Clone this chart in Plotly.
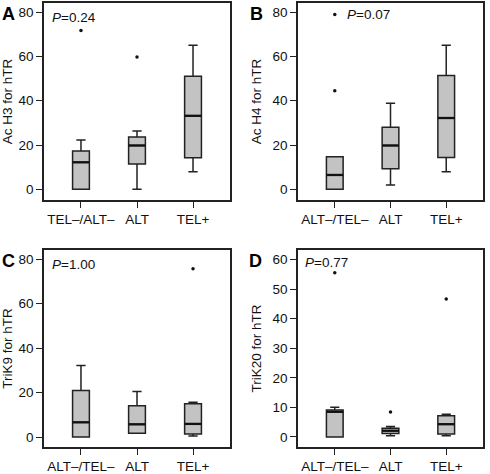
import plotly.graph_objects as go

# ---------------- data ----------------
cats_A = ["TEL\u2013/ALT\u2013", "ALT", "TEL+"]
cats_BCD = ["ALT\u2013/TEL\u2013", "ALT", "TEL+"]

# Panel A: Ac H3
A_q1 = [0.0, 11.4, 14.3]
A_med = [12.2, 19.8, 33.2]
A_q3 = [17.3, 23.6, 51.1]
A_lo = [0.0, 0.0, 8.0]
A_hi = [22.3, 26.3, 65.0]
A_out_cat = [0, 1]
A_out_val = [71.7, 59.7]

# Panel B: Ac H4
B_q1 = [0.0, 9.3, 14.4]
B_med = [6.5, 19.8, 32.2]
B_q3 = [14.7, 28.0, 51.4]
B_lo = [0.0, 2.0, 8.0]
B_hi = [14.7, 38.9, 65.0]
B_out_cat = [0, 0]
B_out_val = [44.5, 78.9]

# Panel C: TriK9
C_q1 = [0.0, 1.7, 1.4]
C_med = [6.6, 5.7, 5.9]
C_q3 = [20.9, 14.1, 15.0]
C_lo = [0.0, 1.7, 0.5]
C_hi = [32.2, 20.5, 15.6]
C_out_cat = [2]
C_out_val = [75.8]

# Panel D: TriK20
D_q1 = [0.0, 1.2, 1.0]
D_med = [8.5, 2.1, 4.3]
D_q3 = [9.1, 2.9, 7.2]
D_lo = [0.0, 0.4, 0.4]
D_hi = [10.0, 3.5, 7.7]
D_out_cat = [0, 1, 2]
D_out_val = [55.5, 8.4, 46.6]

y_titles = ["Ac H3 for hTR", "Ac H4 for hTR", "TriK9 for hTR", "TriK20 for hTR"]
p_texts = ["0.24", "0.07", "1.00", "0.77"]
letters = ["A", "B", "C", "D"]
ticks_80 = [0, 20, 40, 60, 80]
ticks_60 = [0, 10, 20, 30, 40, 50, 60]

# ---------------- figure ----------------
W, H = 490, 474
FONT = "Liberation Sans, Arial, Helvetica, sans-serif"
BOXW = 0.3
FILL = "#c3c3c3"
EDGE = "#222222"
FS = 13.5

panels = [
    (cats_A, A_q1, A_med, A_q3, A_lo, A_hi, A_out_cat, A_out_val),
    (cats_BCD, B_q1, B_med, B_q3, B_lo, B_hi, B_out_cat, B_out_val),
    (cats_BCD, C_q1, C_med, C_q3, C_lo, C_hi, C_out_cat, C_out_val),
    (cats_BCD, D_q1, D_med, D_q3, D_lo, D_hi, D_out_cat, D_out_val),
]

# pixel boxes of the plotting frames (left, right, top, bottom)
frames = [(44, 230, 3, 200), (298, 483, 3, 200), (44, 230, 250, 447), (298, 483, 250, 447)]
yranges = [[-4.8, 84.1], [-4.8, 84.1], [-4.5, 84.2], [-3.4, 63.2]]

fig = go.Figure()
layout = {}
for i, (cats, q1, med, q3, lo, hi, oc, ov) in enumerate(panels):
    n = i + 1
    xa = "x" if n == 1 else f"x{n}"
    ya = "y" if n == 1 else f"y{n}"
    xs = list(range(len(cats)))
    fig.add_trace(go.Box(
        x=xs, q1=q1, median=med, q3=q3, lowerfence=lo, upperfence=hi,
        width=BOXW, whiskerwidth=0.55, fillcolor=FILL,
        line=dict(color=EDGE, width=1.5), boxpoints=False,
        xaxis=xa, yaxis=ya, showlegend=False, hoverinfo="skip",
    ))
    # thicker median lines
    mx, my = [], []
    for xi, m in zip(xs, med):
        mx += [xi - BOXW / 2, xi + BOXW / 2, None]
        my += [m, m, None]
    fig.add_trace(go.Scatter(x=mx, y=my, mode="lines", line=dict(color="#111", width=2.3),
                             xaxis=xa, yaxis=ya, showlegend=False, hoverinfo="skip"))
    fig.add_trace(go.Scatter(x=oc, y=ov, mode="markers",
                             marker=dict(color="#111", size=3.5),
                             xaxis=xa, yaxis=ya, showlegend=False, hoverinfo="skip"))
    l, r, t, b = frames[i]
    xkey = "xaxis" if n == 1 else f"xaxis{n}"
    ykey = "yaxis" if n == 1 else f"yaxis{n}"
    layout[xkey] = dict(
        domain=[l / W, r / W], anchor=ya, range=[-0.66, 2.66], automargin=False,
        tickvals=xs, ticktext=cats, ticks="outside", ticklen=6, tickwidth=1.4, tickcolor=EDGE,
        showline=True, mirror=True, linecolor=EDGE, linewidth=1.7, showgrid=False, zeroline=False,
        tickfont=dict(family=FONT, size=FS, color="#111"), fixedrange=True,
    )
    layout[ykey] = dict(
        domain=[1 - b / H, 1 - t / H], anchor=xa, range=yranges[i], automargin=False,
        tickvals=ticks_60 if i == 3 else ticks_80, ticks="outside", ticklen=6, tickwidth=1.4,
        tickcolor=EDGE, showline=True, mirror=True, linecolor=EDGE, linewidth=1.7,
        showgrid=False, zeroline=False, tickfont=dict(family=FONT, size=FS, color="#111"),
        title=dict(text=y_titles[i], font=dict(family=FONT, size=FS, color="#111"), standoff=8),
        fixedrange=True,
    )

annotations = []
letter_pos = [(0, 2), (248, 2), (0, 249), (247, 249)]
for i, (lx, ly) in enumerate(letter_pos):
    annotations.append(dict(text=f"<b>{letters[i]}</b>", x=lx / W, y=1 - ly / H,
                            xref="paper", yref="paper", xanchor="left", yanchor="top",
                            showarrow=False, font=dict(family=FONT, size=18, color="#000")))
p_pos = [(50, 17), (345, 15), (50, 264), (303, 262)]
for i, (px, py) in enumerate(p_pos):
    annotations.append(dict(text=f"<i>P</i>={p_texts[i]}", x=px / W, y=1 - py / H,
                            xref="paper", yref="paper", xanchor="left", yanchor="middle",
                            showarrow=False, font=dict(family=FONT, size=FS, color="#111")))

fig.update_layout(
    width=W, height=H, margin=dict(l=0, r=0, t=0, b=0, autoexpand=False),
    paper_bgcolor="white", plot_bgcolor="white",
    annotations=annotations, showlegend=False, **layout,
)

fig.write_html("out.html", config={"displayModeBar": False},
               post_script="document.body.style.margin='0';document.body.style.overflow='hidden';")
